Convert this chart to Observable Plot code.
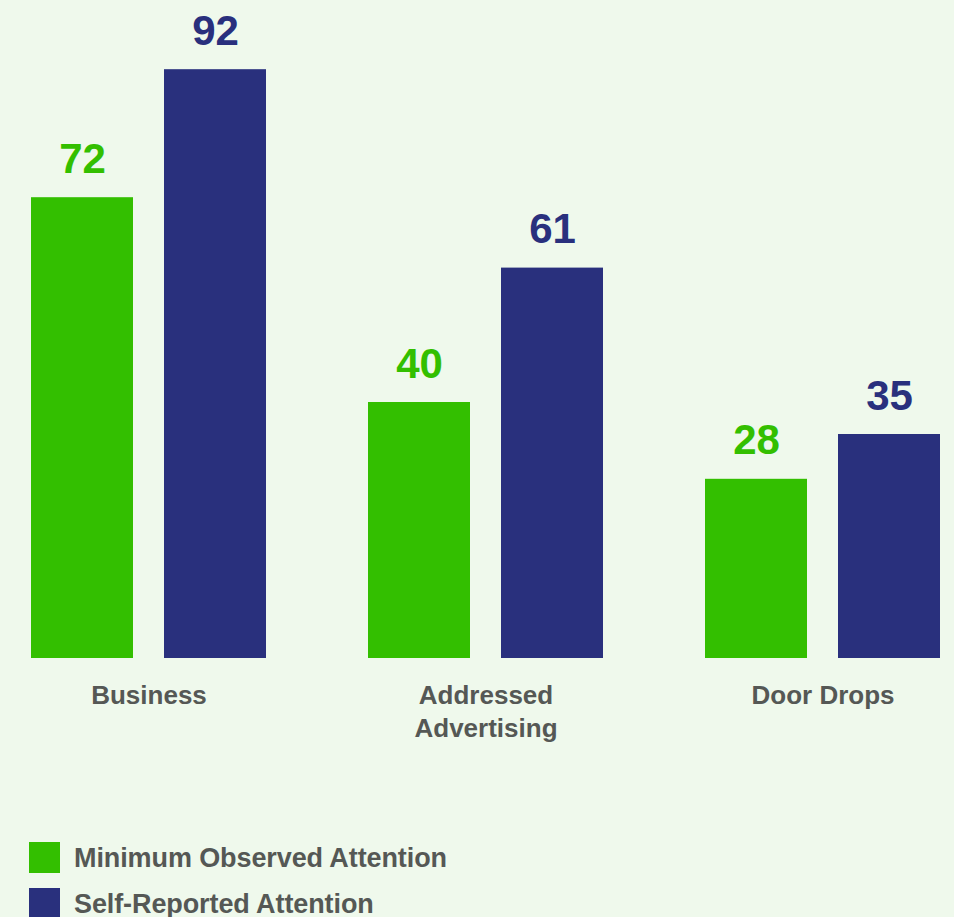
<!DOCTYPE html>
<html>
<head>
<meta charset="utf-8">
<script src="https://cdn.jsdelivr.net/npm/d3@7"></script>
<script src="https://cdn.jsdelivr.net/npm/@observablehq/plot@0.6"></script>
<style>
  html, body { margin: 0; padding: 0; background: #eff9ec; overflow: hidden; }
  body { width: 954px; height: 917px; font-family: "Liberation Sans", Arial, sans-serif; }
  #chart svg { display: block; }
  .legend { padding-top: 12px; padding-left: 29px; }
  .item { display: flex; align-items: center; height: 31px; margin-bottom: 15px; }
  .swatch { width: 31px; height: 31px; flex: none; }
  .label { margin-left: 14px; font-size: 27px; font-weight: bold; color: #555855; line-height: 31px; position: relative; top: 1px; letter-spacing: -0.1px; }
</style>
</head>
<body>
<div id="chart"></div>
<div class="legend" id="legend"></div>
<script>
const categories = ["Business", "Addressed Advertising", "Door Drops"];
const series = ["Minimum Observed Attention", "Self-Reported Attention"];
const minimumObserved = [72, 40, 28];
const selfReported = [92, 61, 35];
const colors = ["#33bf00", "#29307d"];

const data = categories.flatMap((c, i) => [
  {category: c, series: series[0], value: minimumObserved[i]},
  {category: c, series: series[1], value: selfReported[i]}
]);

const H = 830;
const chart = Plot.plot({
  width: 954,
  height: H,
  marginTop: 18,
  marginBottom: H - 658,
  marginLeft: 30,
  marginRight: 12,
  style: {background: "transparent", fontFamily: "'Liberation Sans', Arial, sans-serif"},
  fx: {domain: categories, paddingInner: 0.296, paddingOuter: 0, label: null, axis: null},
  x: {domain: series, paddingInner: 0.231, paddingOuter: 0, axis: null},
  y: {domain: [0, 100], axis: null},
  color: {domain: series, range: colors},
  marks: [
    Plot.barY(data, {fx: "category", x: "series", y: "value", fill: "series"}),
    Plot.text(data, {fx: "category", x: "series", y: "value", text: "value", fill: "series",
      dy: -25, lineAnchor: "bottom", fontSize: 42, fontWeight: "bold"}),
    Plot.axisFx({anchor: "bottom", tickSize: 0, tickPadding: 21, fontSize: 26, fontWeight: "bold", fill: "#555855",
      lineHeight: 1.3, label: null,
      tickFormat: d => d === "Addressed Advertising" ? "Addressed\nAdvertising" : d})
  ]
});
document.getElementById("chart").append(chart);

const legend = document.getElementById("legend");
series.forEach((s, i) => {
  const item = document.createElement("div");
  item.className = "item";
  const sw = document.createElement("div");
  sw.className = "swatch";
  sw.style.background = colors[i];
  const lb = document.createElement("div");
  lb.className = "label";
  lb.textContent = s;
  item.append(sw, lb);
  legend.append(item);
});
</script>
</body>
</html>
